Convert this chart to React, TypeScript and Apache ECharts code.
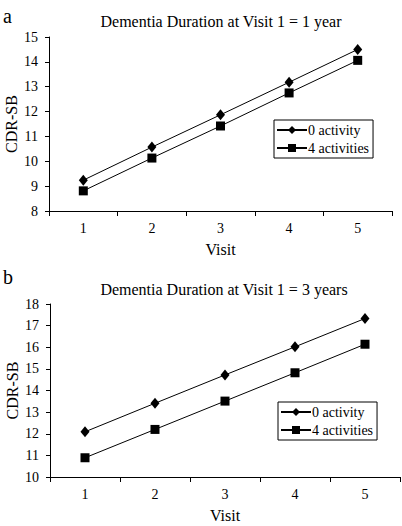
import React, { useEffect, useRef } from "react";
import * as echarts from "echarts";

const visits = ["1", "2", "3", "4", "5"];
const seriesNames = ["0 activity", "4 activities"];
const panelA0 = [9.24, 10.57, 11.87, 13.18, 14.5];
const panelA4 = [8.81, 10.13, 11.42, 12.75, 14.06];
const panelB0 = [12.09, 13.41, 14.72, 16.02, 17.33];
const panelB4 = [10.89, 12.2, 13.51, 14.82, 16.14];
const titles = ["Dementia Duration at Visit 1 = 1 year", "Dementia Duration at Visit 1 = 3 years"];
const panelLetters = ["a", "b"];

const FONT = "Liberation Serif";

export default function App() {
  const ref = useRef<HTMLDivElement>(null);
  useEffect(() => {
    if (!ref.current) return;
    const chart = echarts.init(ref.current, undefined, { renderer: "svg" });
    const axisText = { color: "#000", fontFamily: FONT, fontSize: 14 };
    const xAxisCommon = (gridIndex: number) => ({
      type: "category",
      gridIndex,
      data: visits,
      boundaryGap: true,
      axisLine: { lineStyle: { color: "#000", width: 1 } },
      axisTick: { show: true, inside: false, length: 5, lineStyle: { color: "#000" } },
      axisLabel: { ...axisText, margin: 10 },
      name: "Visit",
      nameLocation: "middle",
      nameGap: 30,
      nameTextStyle: { color: "#000", fontFamily: FONT, fontSize: 16 },
      splitLine: { show: false },
    });
    const yAxisCommon = (gridIndex: number, min: number, max: number) => ({
      type: "value",
      gridIndex,
      min,
      max,
      interval: 1,
      axisLine: { show: true, lineStyle: { color: "#000", width: 1 } },
      axisTick: { show: true, inside: false, length: 4, lineStyle: { color: "#000" } },
      axisLabel: { ...axisText, margin: 11 },
      splitLine: { show: false },
      name: "CDR-SB",
      nameLocation: "middle",
      nameGap: 30,
      nameMoveOverlap: false,
      nameTextStyle: { color: "#000", fontFamily: FONT, fontSize: 16 },
    });
    const lineSeries = (name: string, data: number[], idx: number, symbol: string, size: any) => ({
      type: "line",
      name,
      data,
      xAxisIndex: idx,
      yAxisIndex: idx,
      symbol,
      symbolSize: size,
      showAllSymbol: true,
      lineStyle: { color: "#000", width: 1 },
      itemStyle: { color: "#000", borderWidth: 0 },
    });
    const legendCommon = (left: number, top: number) => ({
      orient: "vertical",
      left,
      top,
      data: seriesNames,
      itemWidth: 30,
      itemHeight: 10,
      itemGap: 4,
      padding: [3, 4, 3, 2],
      borderColor: "#000",
      borderWidth: 1,
      borderRadius: 0,
      selectedMode: false,
      textStyle: { color: "#000", fontFamily: FONT, fontSize: 14, padding: [0, 0, 0, -4] },
    });
    chart.setOption({
      animation: false,
      backgroundColor: "#fff",
      grid: [
        { left: 49, top: 37, width: 343, height: 174, containLabel: false, outerBoundsMode: "none" },
        { left: 50, top: 304, width: 350, height: 173, containLabel: false, outerBoundsMode: "none" },
      ],
      xAxis: [xAxisCommon(0), xAxisCommon(1)],
      yAxis: [yAxisCommon(0, 8, 15), yAxisCommon(1, 10, 18)],
      legend: [legendCommon(274, 120), legendCommon(278, 402)],
      series: [
        lineSeries(seriesNames[0], panelA0, 0, "diamond", [9, 11]),
        lineSeries(seriesNames[1], panelA4, 0, "rect", 9),
        lineSeries(seriesNames[0], panelB0, 1, "diamond", [9, 11]),
        lineSeries(seriesNames[1], panelB4, 1, "rect", 9),
      ],
      graphic: [
        { type: "text", left: 3, top: 6, style: { text: panelLetters[0], font: `20px '${FONT}'`, fill: "#000" } },
        { type: "text", left: 3, top: 267, style: { text: panelLetters[1], font: `20px '${FONT}'`, fill: "#000" } },
        { type: "text", x: 221, y: 21, style: { text: titles[0], font: `16px '${FONT}'`, fill: "#000", textAlign: "center", textVerticalAlign: "middle" } },
        { type: "text", x: 224, y: 289, style: { text: titles[1], font: `16px '${FONT}'`, fill: "#000", textAlign: "center", textVerticalAlign: "middle" } },
      ],
    });
    return () => chart.dispose();
  }, []);
  return <div ref={ref} style={{ position: "absolute", left: 0, top: 0, width: 402, height: 526 }} />;
}
